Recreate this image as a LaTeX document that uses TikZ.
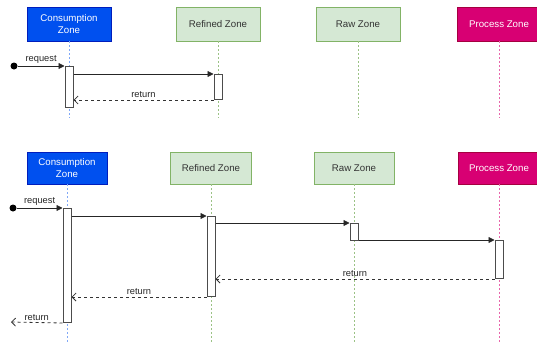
\documentclass[tikz,border=0pt]{standalone}
\usepackage{fontspec}
\setmainfont{Liberation Sans}
\usetikzlibrary{arrows.meta}
\definecolor{consblue}{HTML}{0050EF}
\definecolor{consdraw}{HTML}{001DBC}
\definecolor{zonegreen}{HTML}{D5E8D4}
\definecolor{zonegreendraw}{HTML}{82B366}
\definecolor{procpink}{HTML}{D80073}
\definecolor{procpinkdraw}{HTML}{A50040}

\begin{document}
\begin{tikzpicture}[
    x=1pt, y=-1pt,
    zone/.style={rectangle, minimum width=84pt, minimum height=34pt, align=center, inner sep=1pt, font=\fontsize{9.7}{11.5}\selectfont},
    cons/.style={zone, draw=consdraw, fill=consblue, text=white},
    refzone/.style={zone, draw=zonegreendraw, fill=zonegreen, text=black!80},
    proc/.style={zone, draw=procpinkdraw, fill=procpink, text=white},
    life/.style={line width=1pt, dash pattern=on 2pt off 2pt},
    act/.style={rectangle, draw=black!70, fill=white, line width=1pt, minimum width=8pt, inner sep=0pt, anchor=north},
    msg/.style={-{Triangle[length=6pt,width=6pt]}, line width=0.8pt, black!85},
    ret/.style={-{Straight Barb[length=4pt,width=8pt]}, dashed, line width=0.8pt, black!80},
    lbl/.style={font=\fontsize{9.3}{10}\selectfont, text=black!85, inner sep=2pt},
    dot/.style={circle, fill=black, inner sep=0pt, minimum size=7pt}
]
    \useasboundingbox (0,0) rectangle (537,345);
    \coordinate (endTop) at (0,118);
    \coordinate (endBot) at (0,343);

    % first sequence
    \node[cons] (consTop) at (69,24) {Consumption\\Zone};
    \node[refzone] (refTop) at (218,24) {Refined Zone};
    \node[refzone] (rawTop) at (358,24) {Raw Zone};
    \node[proc] (procTop) at (499,24) {Process Zone};

    \draw[life, consblue!50] (consTop.south) -- (consTop.south |- endTop);
    \draw[life, zonegreendraw!80] (refTop.south) -- (refTop.south |- endTop);
    \draw[life, zonegreendraw!80] (rawTop.south) -- (rawTop.south |- endTop);
    \draw[life, procpink!60] (procTop.south) -- (procTop.south |- endTop);

    \node[act, minimum height=41pt] (consAct1) at (69,66) {};
    \node[act, minimum height=25pt] (refAct1) at (218,74) {};
    \node[dot] (req1) at (14,66) {};

    \draw[msg] (req1) -- node[lbl, above] {request} (consAct1.north west);
    \draw[msg] (consAct1.east |- refAct1.north) -- (refAct1.north west);
    \draw[ret] (refAct1.south west) -- node[lbl, above] {return} (consAct1.east |- refAct1.south);

    % second sequence
    \node[cons, minimum width=80pt, minimum height=32pt] (consBot) at (67,168) {Consumption\\Zone};
    \node[refzone, minimum width=81pt, minimum height=32pt] (refBot) at (211,168) {Refined Zone};
    \node[refzone, minimum width=80pt, minimum height=32pt] (rawBot) at (354,168) {Raw Zone};
    \node[proc, minimum width=82pt, minimum height=32pt] (procBot) at (499,168) {Process Zone};

    \draw[life, consblue!50] (consBot.south) -- (consBot.south |- endBot);
    \draw[life, zonegreendraw!80] (refBot.south) -- (refBot.south |- endBot);
    \draw[life, zonegreendraw!80] (rawBot.south) -- (rawBot.south |- endBot);
    \draw[life, procpink!60] (procBot.south) -- (procBot.south |- endBot);

    \node[act, minimum height=114pt] (consAct2) at (67,208) {};
    \node[act, minimum height=80pt] (refAct2) at (211,216) {};
    \node[act, minimum height=17pt] (rawAct2) at (354,223) {};
    \node[act, minimum height=38pt] (procAct2) at (499,240) {};
    \node[dot] (req2) at (13,208) {};
    \coordinate (retEnd) at (11,322);

    \draw[msg] (req2) -- node[lbl, above] {request} (consAct2.north west);
    \draw[msg] (consAct2.east |- refAct2.north) -- (refAct2.north west);
    \draw[msg] (refAct2.east |- rawAct2.north) -- (rawAct2.north west);
    \draw[msg] (rawAct2.east |- procAct2.north) -- (procAct2.north west);
    \draw[ret] (procAct2.south west) -- node[lbl, above] {return} (refAct2.east |- procAct2.south);
    \draw[ret] (refAct2.south west) -- node[lbl, above] {return} (consAct2.east |- refAct2.south);
    \draw[ret] (consAct2.south west) -- node[lbl, above] {return} (retEnd);
\end{tikzpicture}
\end{document}
